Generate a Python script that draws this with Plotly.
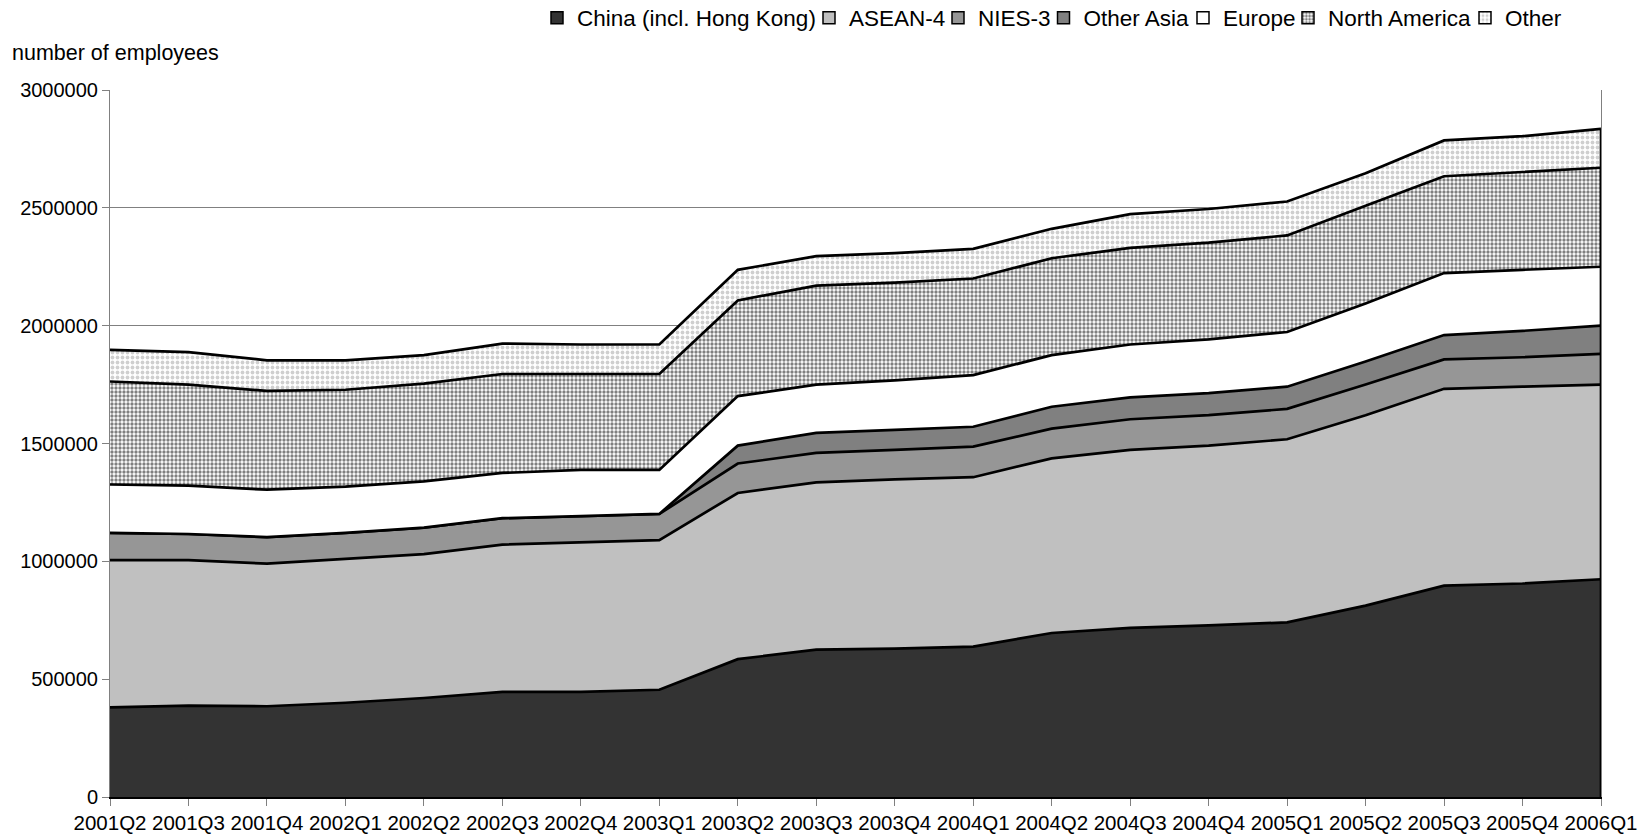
import plotly.graph_objects as go

# Quarterly employment by region (number of employees)
quarters = ["2001Q2", "2001Q3", "2001Q4", "2002Q1", "2002Q2", "2002Q3", "2002Q4",
            "2003Q1", "2003Q2", "2003Q3", "2003Q4", "2004Q1", "2004Q2", "2004Q3",
            "2004Q4", "2005Q1", "2005Q2", "2005Q3", "2005Q4", "2006Q1"]

china = [380000, 388000, 385000, 400000, 420000, 446000, 446000, 455000, 585000, 625000,
         630000, 638000, 696000, 718000, 728000, 741000, 812000, 897000, 906000, 924000]
asean4 = [625000, 617000, 605000, 610000, 611000, 625000, 634000, 635000, 705000, 710000,
          718000, 719000, 741000, 755000, 763000, 777000, 808000, 835000, 835000, 826000]
nies3 = [116000, 111000, 113000, 111000, 112000, 112000, 112000, 111000, 125000, 125000,
         125000, 130000, 126000, 130000, 129000, 129000, 130000, 125000, 125000, 130000]
other_asia = [0, 0, 0, 0, 0, 0, 0, 0, 76000, 85000,
              85000, 84000, 93000, 93000, 94000, 94000, 98000, 103000, 112000, 120000]
europe = [205000, 205000, 201000, 196000, 196000, 192000, 196000, 187000, 210000, 205000,
          210000, 219000, 219000, 224000, 228000, 232000, 246000, 263000, 259000, 250000]
north_america = [437000, 429000, 419000, 411000, 415000, 420000, 407000, 407000, 406000, 420000,
                 415000, 410000, 411000, 410000, 410000, 410000, 415000, 411000, 415000, 420000]
other = [134000, 138000, 130000, 125000, 121000, 129000, 125000, 125000, 130000, 125000,
         125000, 126000, 125000, 143000, 143000, 144000, 138000, 152000, 152000, 165000]

y_ticks = [0, 500000, 1000000, 1500000, 2000000, 2500000, 3000000]

FONT = "Liberation Sans, Arial, sans-serif"

dots_dark = dict(shape=".", fgcolor="#000000", bgcolor="#ffffff", size=4, solidity=0.55)
dots_light = dict(shape=".", fgcolor="#a0a0a0", bgcolor="#ffffff", size=5, solidity=0.45)

series = [
    ("China (incl. Hong Kong)", china, "#333333", None),
    ("ASEAN-4", asean4, "#c0c0c0", None),
    ("NIES-3", nies3, "#969696", None),
    ("Other Asia", other_asia, "#808080", None),
    ("Europe", europe, "#ffffff", None),
    ("North America", north_america, "#ffffff", dots_dark),
    ("Other", other, "#ffffff", dots_light),
]

# left edge of each legend entry's text, in pixels
legend_text_x = [577, 849, 978, 1083.5, 1223, 1328, 1505]

W, H = 1648, 840
ML, MR, MT, MB = 110, 47, 90, 43
PW, PH = W - ML - MR, H - MT - MB

fig = go.Figure()

for name, vals, color, pat in series:
    kw = dict(fillpattern=pat) if pat else {}
    fig.add_trace(go.Scatter(
        x=quarters, y=vals, name=name, stackgroup="one", mode="lines",
        line=dict(color="#000000", width=2.7), fillcolor=color,
        showlegend=False, hoverinfo="skip", **kw))

# closing edge of the stack on the last quarter
totals = [sum(v) for v in zip(*[s[1] for s in series])]
fig.add_trace(go.Scatter(
    x=[quarters[-1], quarters[-1]], y=[0, totals[-1]], mode="lines",
    line=dict(color="#000000", width=2.7), showlegend=False, hoverinfo="skip",
    cliponaxis=False))

# one legend per entry so each swatch sits at its own position
layout_legends = {}
for i, (name, vals, color, pat) in enumerate(series):
    key = "legend" if i == 0 else f"legend{i + 1}"
    marker = dict(color=color, line=dict(color="#000000", width=1.5))
    if pat:
        marker["pattern"] = pat
    fig.add_trace(go.Bar(x=[None], y=[None], name=name, marker=marker,
                         legend=key, showlegend=True, hoverinfo="skip"))
    layout_legends[key] = dict(
        x=(legend_text_x[i] - 40 - ML) / PW, xanchor="left",
        y=(H - MB - 18) / PH, yanchor="middle",
        orientation="h", bgcolor="rgba(0,0,0,0)", borderwidth=0,
        font=dict(family=FONT, size=22.5, color="#000000"))

fig.update_layout(
    width=W, height=H,
    margin=dict(l=ML, r=MR, t=MT, b=MB, autoexpand=False),
    plot_bgcolor="#ffffff", paper_bgcolor="#ffffff",
    font=dict(family=FONT, color="#000000"),
    **layout_legends,
    xaxis=dict(
        type="category", range=[0, len(quarters) - 1], automargin=False,
        showline=True, linecolor="#000000", linewidth=1.5,
        ticks="outside", ticklen=7, tickcolor="#808080", tickwidth=1,
        showgrid=False, tickfont=dict(family=FONT, size=20.5, color="#000000"),
        ticklabelstandoff=0),
    yaxis=dict(
        range=[0, 3000000], tickvals=y_ticks, tickformat="d", automargin=False,
        showgrid=True, gridcolor="#808080", gridwidth=1,
        showline=True, linecolor="#808080", linewidth=1, mirror=True,
        ticks="outside", ticklen=7, tickcolor="#808080", tickwidth=1,
        zeroline=False, tickfont=dict(family=FONT, size=20, color="#000000")),
    annotations=[dict(
        text="number of employees", xref="paper", yref="paper",
        x=(10 - ML) / PW, xanchor="left", y=(H - MB - 53) / PH, yanchor="middle",
        showarrow=False, font=dict(family=FONT, size=21.5, color="#000000"))],
)

fig.write_html("out.html")
